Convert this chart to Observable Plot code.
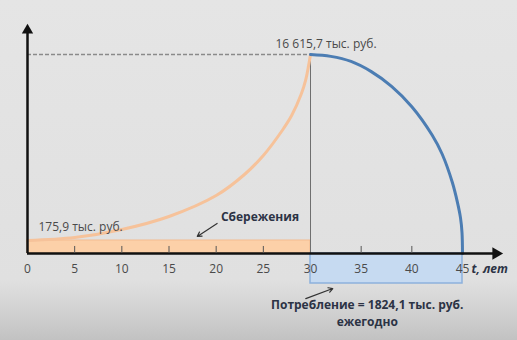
<!DOCTYPE html>
<html>
<head>
<meta charset="utf-8">
<script src="https://cdn.jsdelivr.net/npm/d3@7"></script>
<script src="https://cdn.jsdelivr.net/npm/@observablehq/plot@0.6"></script>
<style>
  html, body { margin: 0; padding: 0; }
  body {
    width: 517px; height: 340px; overflow: hidden;
    background: linear-gradient(to bottom, #e5e5e5 0px, #e0e0e0 280px, #d2d2d2 310px, #c2c2c2 340px);
  }
  #chart svg { display: block; }
</style>
</head>
<body>
<div id="chart"></div>
<script>
// ---- data (thousand rubles, years) ----
const savingsYears   = [0, 5, 10, 15, 20, 23, 25, 27, 28, 29, 29.5, 30];
const savingsBalance = [175.9, 440, 1150, 2300, 4150, 6010, 7690, 9900, 11220, 13080, 14400, 16615.7];

const drawdownYears   = [30, 32, 34, 36, 38, 40, 42, 43, 44, 44.5, 44.8, 44.95, 45];
const drawdownBalance = [16615.7, 16450, 16000, 15100, 13800, 12000, 9500, 7800, 5300, 3550, 2200, 900, 0];

const annualSaving = 175.9;
const annualConsumption = 1824.1;
const peakBalance = 16615.7;
const retireYear = 30;
const endYear = 45;

const tickLabels = [0, 5, 10, 15, 20, 25, 30, 35, 40, 45];
const tickMarks = [5, 10, 15, 20, 25, 35, 40];

const peakLabel = "16 615,7 тыс. руб.";
const startLabel = "175,9 тыс. руб.";
const savingsLabel = "Сбережения";
const consumptionLabel = "Потребление = 1824,1 тыс. руб.\nежегодно";
const axisLabel = "t, лет";

// ---- tables ----
const savings = savingsYears.map((t, i) => ({t, v: savingsBalance[i]}));
const drawdown = drawdownYears.map((t, i) => ({t, v: drawdownBalance[i]}));

const font = "'Open Sans', 'DejaVu Sans', sans-serif";
const ink = "#2c3345";

const chart = Plot.plot({
  width: 517,
  height: 340,
  margin: 0,
  x: {type: "linear", domain: [0, retireYear, endYear], range: [27, 310, 462], axis: null},
  y: {type: "linear", domain: [-annualConsumption, 0, annualSaving, peakBalance], range: [283, 253, 240, 54], axis: null},
  style: {background: "transparent", fontFamily: font},
  marks: [
    // savings bar
    Plot.rect([{x1: 0, x2: retireYear, y1: 0, y2: annualSaving}], {x1: "x1", x2: "x2", y1: "y1", y2: "y2", fill: "#fcd0a8", stroke: "#f3bb8f", strokeWidth: 1}),
    // consumption bar
    Plot.rect([{x1: retireYear, x2: endYear, y1: -annualConsumption, y2: 0}], {x1: "x1", x2: "x2", y1: "y1", y2: "y2", fill: "#c6daf1", stroke: "#8db1dc", strokeWidth: 1.5}),
    // reference lines
    Plot.ruleY([peakBalance], {x1: 0, x2: retireYear, stroke: "#8a8a8a", strokeWidth: 1.5, strokeDasharray: "4,2"}),
    Plot.ruleX([retireYear], {y1: 0, y2: peakBalance, stroke: "#6f6f6f", strokeWidth: 1}),
    // curves
    Plot.line(savings, {x: "t", y: "v", stroke: "#f6c29a", strokeWidth: 3, curve: "catmull-rom"}),
    Plot.line(drawdown, {x: "t", y: "v", stroke: "#4c7db3", strokeWidth: 3, curve: "catmull-rom"}),
    // axes
    Plot.ruleY([0], {x1: 0, x2: 48.2, stroke: "#111", strokeWidth: 2.5}),
    Plot.ruleX([0], {y1: 0, y2: 18500, stroke: "#111", strokeWidth: 2.5}),
    Plot.dot([{x: 48.3, y: 0}], {x: "x", y: "y", symbol: "triangle", r: 4.6, fill: "#111", stroke: "none", rotate: 90}),
    Plot.dot([{x: 0, y: 18750}], {x: "x", y: "y", symbol: "triangle", r: 4.2, fill: "#111", stroke: "none"}),
    Plot.ruleX(tickMarks, {x: d => d, y1: 0, y2: 95, stroke: "#555", strokeWidth: 1}),
    Plot.text(tickLabels, {x: d => d, y: 0, dy: 16, text: d => String(d), fontSize: 12, fill: "#4a4a4a"}),
    Plot.text([axisLabel], {x: endYear, y: 0, dx: 9, dy: 16, textAnchor: "start", fontSize: 12, fontWeight: "bold", fontStyle: "italic", fill: ink}),
    // annotations
    Plot.text([peakLabel], {x: retireYear, y: peakBalance, dx: -35, dy: -10, textAnchor: "start", fontSize: 12, fill: "#4a4a4a"}),
    Plot.text([startLabel], {x: 0, y: annualSaving, dx: 11, dy: -13, textAnchor: "start", fontSize: 12, fill: "#4a4a4a"}),
    Plot.text([savingsLabel], {x: 20.5, y: 2200, textAnchor: "start", fontSize: 12, fontWeight: "bold", fill: ink}),
    Plot.arrow([{x1: 20.1, y1: 1680, x2: 18.0, y2: 540}], {x1: "x1", y1: "y1", x2: "x2", y2: "y2", stroke: "#333", strokeWidth: 1.2, headLength: 6}),
    Plot.text([consumptionLabel], {x: 35.6, y: -3160, dy: 7, textAnchor: "middle", fontSize: 12, fontWeight: "bold", fill: ink, lineHeight: 1.42}),
    Plot.arrow([{x1: 29.5, y1: -2740, x2: 32.2, y2: -2130}], {x1: "x1", y1: "y1", x2: "x2", y2: "y2", stroke: "#333", strokeWidth: 1.2, headLength: 6})
  ]
});
document.getElementById("chart").appendChild(chart);
</script>
</body>
</html>
